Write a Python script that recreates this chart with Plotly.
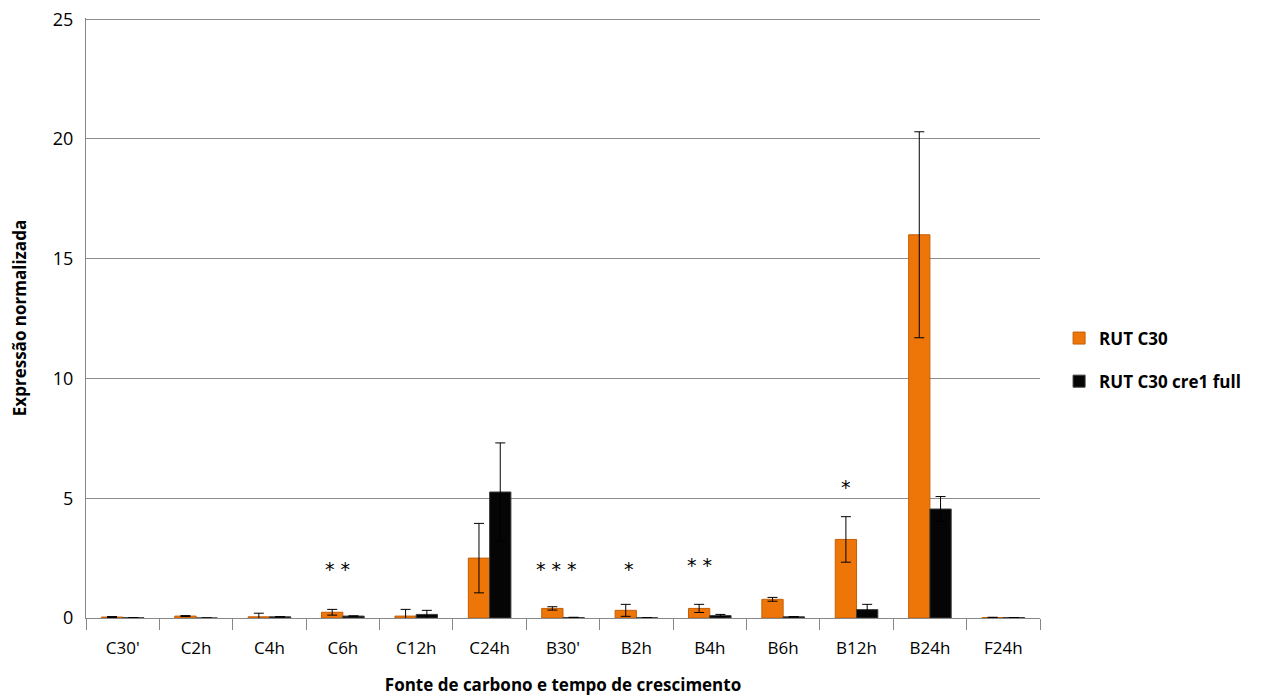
import plotly.graph_objects as go

categories = ["C30'", "C2h", "C4h", "C6h", "C12h", "C24h", "B30'", "B2h", "B4h", "B6h", "B12h", "B24h", "F24h"]
rut_c30 = [0.04, 0.08, 0.05, 0.24, 0.08, 2.5, 0.40, 0.32, 0.40, 0.78, 3.28, 16.0, 0.02]
rut_c30_err = [0.02, 0.02, 0.15, 0.12, 0.28, 1.45, 0.07, 0.25, 0.17, 0.08, 0.95, 4.3, 0.01]
cre1_full = [0.01, 0.0, 0.05, 0.08, 0.15, 5.26, 0.02, 0.01, 0.10, 0.05, 0.35, 4.55, 0.02]
cre1_err = [0.0, 0.0, 0.01, 0.01, 0.17, 2.05, 0.01, 0.0, 0.05, 0.01, 0.22, 0.52, 0.0]
sig_labels = [("C6h", "* *", 2.05, -5), ("B30'", "* * *", 2.05, -7), ("B2h", "*", 2.05, -7), ("B4h", "* *", 2.2, -10), ("B12h", "*", 5.45, -11)]

fig = go.Figure()
fig.add_trace(go.Bar(
    x=categories, y=rut_c30, name="RUT C30", legendgroup="a",
    marker=dict(color="#EE7609", line=dict(color="#C45F06", width=1)),
    error_y=dict(type="data", array=rut_c30_err, color="black", thickness=1, width=5),
))
fig.add_trace(go.Bar(
    x=categories, y=cre1_full, name="RUT C30 cre1 full", legendgroup="b",
    marker=dict(color="#050505", line=dict(color="#3a3a3a", width=1)),
    error_y=dict(type="data", array=cre1_err, color="black", thickness=1, width=5),
))

for cat, txt, yv, xs in sig_labels:
    fig.add_annotation(x=cat, y=yv, text=txt, showarrow=False, xshift=xs,
                       font=dict(family="DejaVu Sans", size=19, color="black"))

fig.update_layout(
    width=1275, height=700,
    margin=dict(l=78, r=243, t=10, b=90, autoexpand=False),
    plot_bgcolor="white", paper_bgcolor="white",
    barmode="group", bargap=0.42, bargroupgap=0,
    font=dict(family="Open Sans", size=17, color="black"),
    showlegend=True,
    legend=dict(x=1.02, y=0.43, xanchor="left", yanchor="middle",
                font=dict(family="Open Sans", size=17, color="black", weight="bold"),
                tracegroupgap=18, itemwidth=30),
    xaxis=dict(
        automargin=False,
        tickson="boundaries", ticks="outside", ticklen=11, tickcolor="#888",
        ticklabelstandoff=15,
        showline=True, linecolor="#888", linewidth=1,
        tickfont=dict(size=17),
        title=dict(text="Fonte de carbono e tempo de crescimento",
                   font=dict(size=17, weight="bold"), standoff=20),
    ),
    yaxis=dict(
        automargin=False, ticklabeloverflow="allow",
        range=[0, 25.05], tickvals=[0, 5, 10, 15, 20, 25], showgrid=True, gridcolor="#8c8c8c", gridwidth=1,
        showline=True, linecolor="#888", linewidth=1, zeroline=False,
        ticks="", tickfont=dict(size=18), ticklabelstandoff=8,
        title=dict(text="Expressão normalizada", font=dict(size=17, weight="bold"), standoff=22),
    ),
)

fig.write_html("out.html")
